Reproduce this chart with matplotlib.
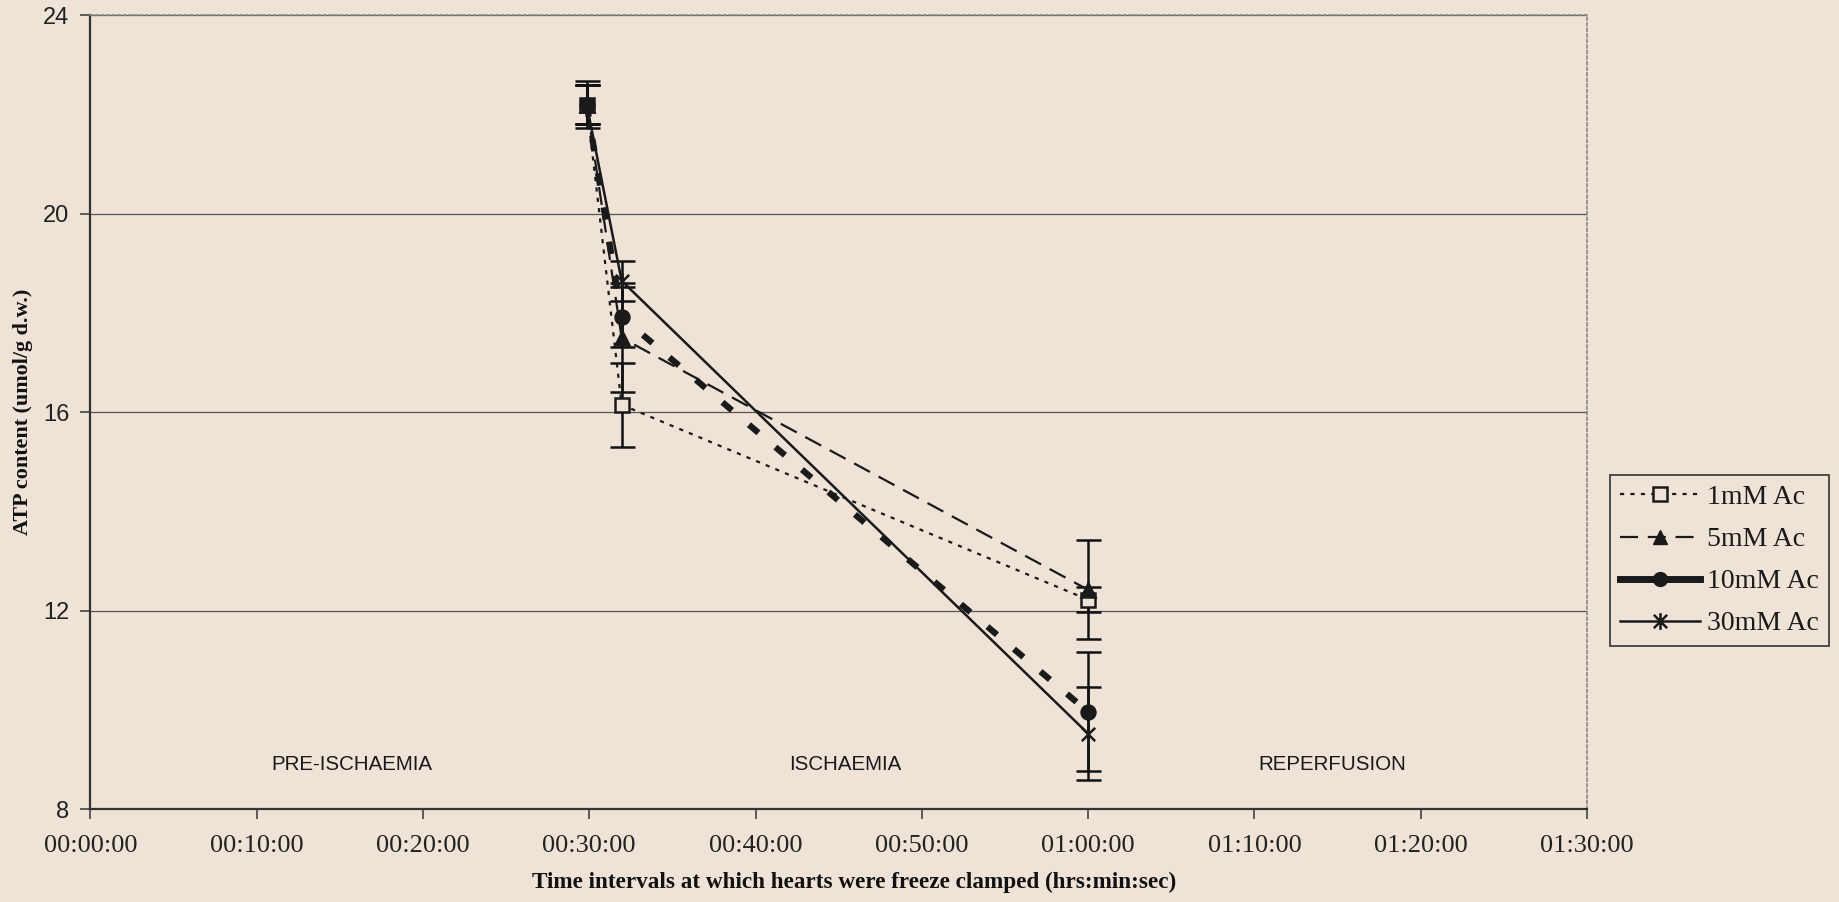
import matplotlib
matplotlib.use("Agg")
import matplotlib.pyplot as plt
import numpy as np
import pandas as pd
from matplotlib.path import Path
from matplotlib.lines import Line2D
from matplotlib.ticker import FuncFormatter, MultipleLocator

# Freeze-clamp times (hh:mm:ss)
times = ["00:29:51", "00:31:57", "01:00:00"]

# ATP content (umol/g d.w.) and error for each acetate concentration
atp_1mM = [22.2, 16.15, 12.22]
err_1mM = [0.48, 0.85, 0.25]
atp_5mM = [22.2, 17.5, 12.42]
err_5mM = [0.40, 1.10, 1.00]
atp_10mM = [22.2, 17.92, 9.96]
err_10mM = [0.40, 0.60, 1.20]
atp_30mM = [22.2, 18.65, 9.52]
err_30mM = [0.40, 0.40, 0.94]

series_labels = ["1mM Ac", "5mM Ac", "10mM Ac", "30mM Ac"]
phase_labels = ["PRE-ISCHAEMIA", "ISCHAEMIA", "REPERFUSION"]
phase_x_min = [15.7, 45.4, 74.7]
phase_y = 8.9

x_min = pd.to_timedelta(times).total_seconds().values / 60.0

bg = "#efe2d6"
ink = "#1a1a1a"
serif = ["Liberation Serif", "DejaVu Serif"]
sans = ["Liberation Sans", "DejaVu Sans"]

# Excel-style asterisk: an x crossed by a vertical bar
star = Path([(-1, -1), (1, 1), (-1, 1), (1, -1), (0, -1.25), (0, 1.25)],
            [Path.MOVETO, Path.LINETO, Path.MOVETO, Path.LINETO, Path.MOVETO, Path.LINETO])

plt.rcParams["lines.scale_dashes"] = False

fig = plt.figure(figsize=(18.39, 9.02), dpi=100, facecolor=bg)
ax = fig.add_axes([0.0491, 0.103, 0.8139, 0.880], facecolor=bg)

styles = [
    dict(y=atp_1mM, e=err_1mM, ls=(0, (3, 4.5)), lw=1.6, marker="s", mfc=bg, ms=10),
    dict(y=atp_5mM, e=err_5mM, ls=(0, (13, 7)), lw=1.6, marker="^", mfc=ink, ms=10),
    dict(y=atp_10mM, e=err_10mM, ls=(0, (9, 16)), lw=4.5, marker="o", mfc=ink, ms=10),
    dict(y=atp_30mM, e=err_30mM, ls="-", lw=1.8, marker=star, mfc="none", ms=12),
]

for st in styles:
    ax.errorbar(x_min, st["y"], yerr=st["e"], fmt="none", ecolor="#111111",
                elinewidth=1.8, capsize=9, capthick=1.8, zorder=3)
for st in styles:
    ax.plot(x_min, st["y"], color=ink, linestyle=st["ls"], linewidth=st["lw"],
            marker=st["marker"], markersize=st["ms"], markerfacecolor=st["mfc"],
            markeredgecolor=ink, markeredgewidth=1.8, zorder=4)

ax.set_xlim(0, 90)
ax.set_ylim(8, 24)
ax.xaxis.set_major_locator(MultipleLocator(10))
ax.yaxis.set_major_locator(MultipleLocator(4))
ax.xaxis.set_major_formatter(FuncFormatter(
    lambda v, p: f"{int(v // 60):02d}:{int(v % 60):02d}:00"))

ax.grid(axis="y", color="#555555", linewidth=0.9)
ax.set_axisbelow(True)
for s in ["left", "bottom"]:
    ax.spines[s].set_color("#333333")
    ax.spines[s].set_linewidth(1.6)
for s in ["top", "right"]:
    ax.spines[s].set_color("#888888")
    ax.spines[s].set_linewidth(1.2)
    ax.spines[s].set_linestyle((0, (2, 2)))

ax.tick_params(axis="x", direction="out", length=7, width=1.2, color="#444444",
               pad=12, labelsize=19)
ax.tick_params(axis="y", direction="out", length=7, width=1.2, color="#444444",
               pad=8, labelsize=17)
for lab in ax.get_xticklabels():
    lab.set_fontfamily(serif)
    lab.set_color("#222222")
for lab in ax.get_yticklabels():
    lab.set_fontfamily(sans)
    lab.set_color("#222222")

ax.set_xlabel("Time intervals at which hearts were freeze clamped (hrs:min:sec)",
              fontsize=16.7, fontweight="bold", family=serif, color="#111111", labelpad=10)
ax.xaxis.label.set_x(0.51)
ax.set_ylabel("ATP content (umol/g d.w.)", fontsize=15.9, fontweight="bold",
              family=serif, color="#111111", labelpad=7)

for lab, xm in zip(phase_labels, phase_x_min):
    ax.text(xm, phase_y, lab, ha="center", va="center", fontsize=14.8,
            family=sans, color=ink)

# Legend entries: the 10mM and 30mM keys are drawn with solid lines
handles = [
    Line2D([], [], color=ink, ls=(0, (3, 4.5)), lw=1.6, marker="s",
           mfc=bg, mec=ink, mew=1.8, ms=10),
    Line2D([], [], color=ink, ls=(0, (13, 7)), lw=1.6, marker="^",
           mfc=ink, mec=ink, ms=10),
    Line2D([], [], color=ink, ls="-", lw=5, marker="o",
           mfc=ink, mec=ink, ms=10),
    Line2D([], [], color=ink, ls="-", lw=1.8, marker=star,
           mfc="none", mec=ink, mew=1.8, ms=12),
]
leg = fig.legend(handles, series_labels, loc="upper left",
                 bbox_to_anchor=(0.8755, 0.4734), frameon=True, fancybox=False,
                 edgecolor="#333333", facecolor=bg, framealpha=1,
                 prop={"family": serif, "size": 20}, handlelength=2.9,
                 handletextpad=0.25, labelspacing=0.6, borderpad=0.35,
                 borderaxespad=0)
leg.get_frame().set_linewidth(1.2)
for t in leg.get_texts():
    t.set_color(ink)

fig.savefig("out.png", dpi=100, facecolor=bg)
